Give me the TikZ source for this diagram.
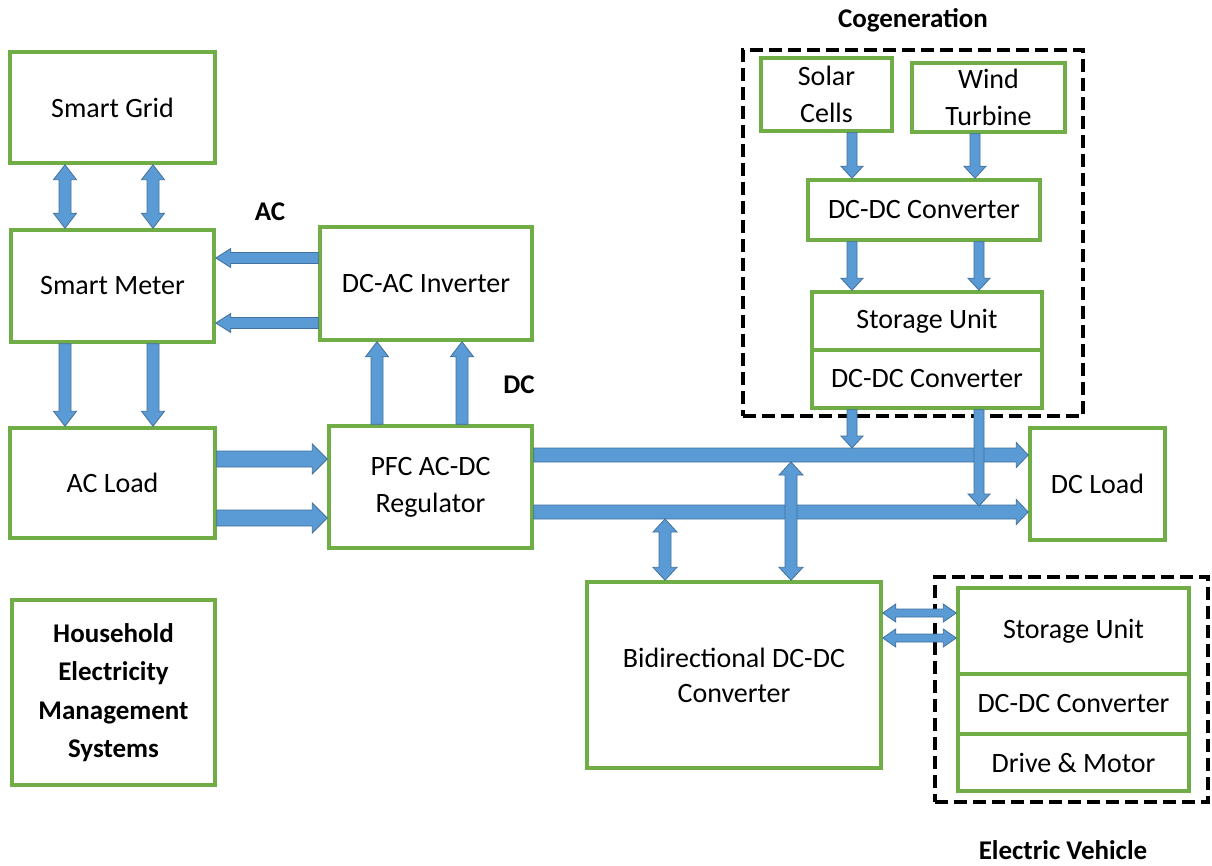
\documentclass[tikz,border=0pt]{standalone}
\usepackage{fontspec}
\setmainfont{Carlito}
\usetikzlibrary{calc}

\definecolor{boxgreen}{HTML}{70AD47}
\definecolor{flowfill}{HTML}{5B9BD5}
\definecolor{flowedge}{HTML}{41719C}

% geometry of the block arrows: half shaft width, half head width, head length
\pgfkeys{/barr/.is family, /barr/.cd,
  w/.store in=\barrw, h/.store in=\barrh, l/.store in=\barrl,
  w=6pt, h=12pt, l=14pt,
  big/.style={w=6pt, h=11.5pt, l=15pt},
  side/.style={w=5.5pt, h=9.5pt, l=15pt},
  wide/.style={w=8pt, h=15pt, l=15pt},
  bus/.style={w=7pt, h=12.5pt, l=12pt},
  small/.style={w=5pt, h=11pt, l=12pt},
  tie/.style={w=6pt, h=12pt, l=13pt},
  thin/.style={w=4pt, h=9pt, l=13pt}}

% single-headed block arrow from #2 to #3
\newcommand\onearrow[3][]{%
  \begingroup\pgfkeys{/barr/.cd,#1}%
  \coordinate (ta) at #2; \coordinate (tb) at #3;
  \coordinate (th) at ($(tb)!\barrl!(ta)$);
  \filldraw[flow] ($(ta)!\barrw!90:(tb)$) -- ($(th)!\barrw!90:(tb)$)
    -- ($(th)!\barrh!90:(tb)$) -- (tb) -- ($(th)!\barrh!-90:(tb)$)
    -- ($(th)!\barrw!-90:(tb)$) -- ($(ta)!\barrw!-90:(tb)$) -- cycle;
  \endgroup}

% double-headed block arrow between #2 and #3
\newcommand\twoarrow[3][]{%
  \begingroup\pgfkeys{/barr/.cd,#1}%
  \coordinate (ta) at #2; \coordinate (tb) at #3;
  \coordinate (tg) at ($(ta)!\barrl!(tb)$);
  \coordinate (th) at ($(tb)!\barrl!(ta)$);
  \filldraw[flow] (ta) -- ($(tg)!\barrh!90:(tb)$) -- ($(tg)!\barrw!90:(tb)$)
    -- ($(th)!\barrw!90:(tb)$) -- ($(th)!\barrh!90:(tb)$) -- (tb)
    -- ($(th)!\barrh!-90:(tb)$) -- ($(th)!\barrw!-90:(tb)$)
    -- ($(tg)!\barrw!-90:(tb)$) -- ($(tg)!\barrh!-90:(tb)$) -- cycle;
  \endgroup}

\tikzset{
  box/.style={draw=boxgreen, line width=3.5pt, fill=white, align=center,
    inner sep=2pt, font=\fontsize{28}{37}\selectfont},
  groupbox/.style={draw=black, line width=4pt, dash pattern=on 13pt off 6pt},
  tag/.style={font=\fontsize{27}{33}\selectfont\bfseries},
  flow/.style={fill=flowfill, draw=flowedge, line width=0.8pt, line join=miter}
}

\begin{document}
\begin{tikzpicture}[x=1pt, y=-1pt]
\useasboundingbox[fill=white] (0,0) rectangle (1212,866);

% grouping frames
\node[groupbox, minimum width=340pt, minimum height=366pt] (cogen) at (913,233) {};
\node[groupbox, minimum width=273pt, minimum height=225pt] (ev) at (1071.5,689.5) {};

% left column
\node[box, minimum width=205pt, minimum height=111pt] (sg) at (112.5,107.5) {Smart Grid};
\node[box, minimum width=203pt, minimum height=112pt] (sm) at (112.5,286) {Smart Meter};
\node[box, minimum width=205pt, minimum height=110pt] (acl) at (112.5,483) {AC Load};
\node[box, minimum width=203pt, minimum height=185pt, font=\fontsize{27}{38.5}\selectfont\bfseries]
  (hems) at (113.5,692.5) {Household\\Electricity\\Management\\Systems};

% conversion stage
\node[box, minimum width=212pt, minimum height=113pt] (inv) at (426,283.5) {DC-AC Inverter};
\node[box, minimum width=203pt, minimum height=122pt] (pfc) at (430.5,487) {PFC AC-DC\\Regulator};
\node[box, minimum width=294pt, minimum height=186pt, font=\fontsize{28}{35}\selectfont]
  (bdc) at (734,675) {Bidirectional DC-DC\\Converter};
\node[box, minimum width=135pt, minimum height=112pt] (dcl) at (1097.5,484) {DC Load};

% cogeneration
\node[box, minimum width=131pt, minimum height=73pt] (solar) at (826.5,94.5) {Solar\\Cells};
\node[box, minimum width=153pt, minimum height=69pt] (wind) at (988.5,97.5) {Wind\\Turbine};
\node[box, minimum width=232pt, minimum height=60pt] (cdc1) at (924,210) {DC-DC Converter};
\node[box, minimum width=230pt, minimum height=58pt] (cst) at (927,321) {Storage Unit};
\node[box, minimum width=230pt, minimum height=58pt] (cdc2) at (927,379) {DC-DC Converter};

% electric vehicle
\node[box, minimum width=231pt, minimum height=86pt] (evst) at (1073.5,631) {Storage Unit};
\node[box, minimum width=231pt, minimum height=60pt] (evdc) at (1073.5,704) {DC-DC Converter};
\node[box, minimum width=231pt, minimum height=57pt] (evdm) at (1073.5,762.5) {Drive \& Motor};

% labels
\node[tag] (lcog) at (913,20) {Cogeneration};
\node[tag] (lev) at (1063,850) {Electric Vehicle};
\node[tag] (lac) at (270,212) {AC};
\node[tag] (ldc) at (519,385) {DC};

% grid / meter / AC side
\twoarrow[big]{([xshift=-47.5pt]sg.south)}{([xshift=-47.5pt]sm.north)}
\twoarrow[big]{([xshift=40.5pt]sg.south)}{([xshift=40.5pt]sm.north)}
\onearrow[big]{([xshift=-47.5pt]sm.south)}{([xshift=-47.5pt]acl.north)}
\onearrow[big]{([xshift=40.5pt]sm.south)}{([xshift=40.5pt]acl.north)}
\onearrow[side]{([yshift=25.5pt]inv.west)}{(sm.east |- ta)}
\onearrow[side]{([yshift=-39.5pt]inv.west)}{(sm.east |- ta)}
\onearrow[big]{([xshift=-53.5pt]pfc.north)}{(inv.south -| ta)}
\onearrow[big]{([xshift=31.5pt]pfc.north)}{(inv.south -| ta)}
\onearrow[wide]{([yshift=24pt]acl.east)}{(pfc.west |- ta)}
\onearrow[wide]{([yshift=-35pt]acl.east)}{(pfc.west |- ta)}

% DC bus
\coordinate (busA) at ([yshift=32pt]pfc.east);
\coordinate (busB) at ([yshift=-25pt]pfc.east);
\onearrow[bus]{(busA)}{(dcl.west |- busA)}
\onearrow[bus]{(busB)}{(dcl.west |- busB)}

% cogeneration chain
\onearrow[small]{([xshift=25.5pt]solar.south)}{(cdc1.north -| ta)}
\onearrow[small]{([xshift=-13.5pt]wind.south)}{(cdc1.north -| ta)}
\onearrow[small]{([xshift=-72pt]cdc1.south)}{(cst.north -| ta)}
\onearrow[small]{([xshift=55pt]cdc1.south)}{(cst.north -| ta)}
\onearrow[small]{([xshift=-75pt]cdc2.south)}{($(ta |- busA)+(0,-7)$)}
\onearrow[small]{([xshift=52pt]cdc2.south)}{($(ta |- busB)+(0,-6)$)}

% bidirectional converter links
\twoarrow[tie]{([xshift=-69pt]bdc.north)}{($(ta |- busB)+(0,7)$)}
\twoarrow[tie]{([xshift=57pt]bdc.north)}{($(ta |- busA)+(0,7)$)}
\twoarrow[thin]{([yshift=62pt]bdc.east)}{(evst.west |- ta)}
\twoarrow[thin]{([yshift=37pt]bdc.east)}{(evst.west |- ta)}
\end{tikzpicture}
\end{document}
